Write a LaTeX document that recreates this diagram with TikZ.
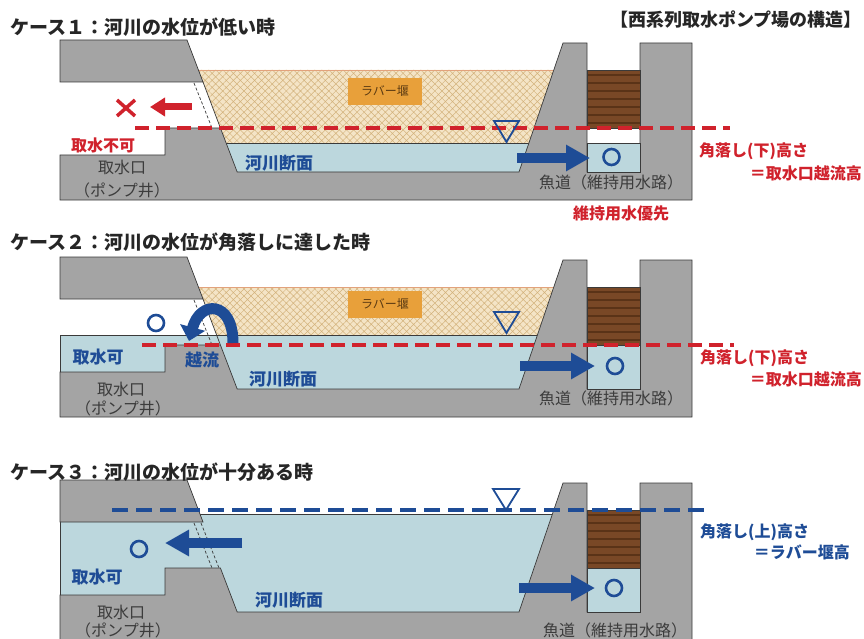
\documentclass[tikz,border=0pt]{standalone}
\usepackage{fontspec}
\setmainfont{Noto Sans CJK JP}
\usetikzlibrary{arrows.meta,patterns.meta}

\definecolor{concrete}{HTML}{A4A4A4}
\definecolor{edge}{HTML}{3A3A3A}
\definecolor{river}{HTML}{BCD7DD}
\definecolor{weirsand}{HTML}{F4E4C6}
\definecolor{weirline}{HTML}{D3B27C}
\definecolor{weirrim}{HTML}{E2A27C}
\definecolor{levelred}{HTML}{D0222C}
\definecolor{flowblue}{HTML}{1E4C96}
\definecolor{wood}{HTML}{794826}
\definecolor{woodgrain}{HTML}{5A3317}
\definecolor{tagorange}{HTML}{E8A03A}
\definecolor{tagink}{HTML}{5B3A12}
\definecolor{ink}{HTML}{3C3C3C}

\newcommand{\sz}[1]{\fontsize{#1}{#1}\selectfont}

\tikzset{
  wall/.style={fill=concrete, draw=edge, line width=0.7pt, line join=miter},
  water/.style={fill=river, draw=edge, line width=0.6pt},
  weir/.style={fill=weirsand, postaction={pattern={Hatch[angle=45,distance=5pt,line width=0.5pt]}, pattern color=weirline}},
  weirtop/.style={draw=weirrim, line width=0.8pt},
  gate/.style={draw=edge, line width=0.7pt, dash pattern=on 3pt off 2pt},
  redlevel/.style={draw=levelred, line width=3.5pt, dash pattern=on 14pt off 7pt},
  bluelevel/.style={draw=flowblue, line width=4pt, dash pattern=on 16pt off 8pt},
  flow/.style={draw=flowblue, line width=10pt, -{Triangle[length=24pt,width=25pt]}},
  redflow/.style={draw=levelred, line width=7pt, -{Triangle[length=15pt,width=18pt]}},
  ok/.style={circle, draw=flowblue, line width=2.6pt, minimum size=16pt, inner sep=0pt},
  gauge/.style={draw=flowblue, line width=1.8pt, line join=miter},
  title/.style={font=\bfseries\sz{19pt}, text=black!85, anchor=west, inner sep=0pt},
  redlabel/.style={font=\bfseries\sz{16pt}, text=levelred, inner sep=0pt},
  bluelabel/.style={font=\bfseries\sz{17pt}, text=flowblue, inner sep=0pt},
  graylabel/.style={font=\sz{16pt}, text=ink, inner sep=0pt},
  weirtag/.style={fill=tagorange, text=tagink, font=\sz{12pt}, minimum width=74pt, minimum height=27pt}
}

\begin{document}
\begin{tikzpicture}[x=1pt,y=-1pt]
\useasboundingbox (0,0) rectangle (864,639);

% ---- water and rubber weir first, the concrete covers their edges
% case 1
\fill[weir] (198.4,70) -- (553.8,70) -- (528.9,143) -- (226.1,143) -- cycle;
\draw[weirtop] (198.4,70) -- (553.8,70);
\draw[water] (200,143) rectangle (560,172);
% case 2
\begin{scope}[shift={(0,217)}]
  \fill[weir] (198.4,70) -- (553.8,70) -- (537.4,118) -- (216.6,118) -- cycle;
  \draw[weirtop] (198.4,70) -- (553.8,70);
  \draw[water] (60,118) rectangle (560,172);
\end{scope}
% case 3
\begin{scope}[shift={(0,440)}]
  \draw[water] (60,74) rectangle (560,172);
\end{scope}

% ---- embankment, intake pit and fishway walls
\foreach \dy in {0,217,440}{
  \begin{scope}[shift={(0,\dy)}]
    \draw[wall] (60,40) -- (187,40) -- (203,82) -- (60,82) -- cycle;
    \draw[wall] (60,155) -- (165,155) -- (165,128) -- (220.4,128) -- (237.2,172)
      -- (519,172) -- (563,43) -- (587,43) -- (587,172) -- (640,172)
      -- (640,43) -- (692,43) -- (692,200) -- (60,200) -- cycle;
    % stop logs
    \fill[wood] (587,70) rectangle (640,128);
    \foreach \k in {0,...,6}
      \draw[woodgrain, line width=1.2pt] (587,75+8*\k) -- (640,75+8*\k);
    \draw[edge, line width=0.7pt] (587,70) rectangle (640,128);
  \end{scope}
}

% ---- case 1
\draw[water] (587,143) rectangle (640,172);
\draw[gate] (194,83) -- (212,128);
\draw[edge, line width=0.7pt] (203,82) -- (220.4,128);
\draw[redlevel] (135,128) -- (730,128);
\draw[gauge] (494,121) -- (519,121) -- (506.5,142) -- cycle;
\draw[levelred, line width=3.5pt] (117,100) -- (135,116) (117,116) -- (135,100);
\draw[redflow] (192,107) -- (150,107);
\draw[flow] (517,158) -- (590,158);
\node[ok] (ok1) at (611.5,157) {};

\node[title] (case1) at (10,27) {ケース１：河川の水位が低い時};
\node[title, anchor=east, font=\bfseries\sz{18pt}] (heading) at (862,20) {【西系列取水ポンプ場の構造】};
\node[weirtag] (weir1) at (385,91.5) {ラバー堰};
\node[redlabel] (fail1) at (103,145) {取水不可};
\node[graylabel] (pit1) at (122,167) {取水口};
\node[graylabel] (pitsub1) at (122,190) {（ポンプ井）};
\node[bluelabel] (river1) at (279,163) {河川断面};
\node[graylabel] (fish1) at (611,182) {魚道（維持用水路）};
\node[redlabel] (keep1) at (621,213) {維持用水優先};
\node[redlabel, anchor=west] (log1) at (699,151) {角落し(下)高さ};
\node[redlabel, anchor=east] (crest1) at (862,173) {＝取水口越流高};

% ---- case 2
\begin{scope}[shift={(0,217)}]
  \draw[water] (587,128) rectangle (640,172);
  \draw[gate] (194,83) -- (212,128);
  \draw[edge, line width=0.7pt] (203,82) -- (220.4,128);
  \draw[redlevel] (142,128) -- (734,128);
  \draw[gauge] (494,95) -- (519,95) -- (506.5,116) -- cycle;
  \draw[flow] (520,149) -- (595,149);
\end{scope}
\draw[flowblue, line width=11pt, -{Triangle[length=14pt,width=25pt]}]
  (233,343) .. controls (233,300) and (200,300) .. (189,341);
\node[ok] (ok2a) at (156,323) {};
\node[ok] (ok2b) at (615,366) {};

\node[title] (case2) at (10,242) {ケース２：河川の水位が角落しに達した時};
\node[weirtag] (weir2) at (385,304) {ラバー堰};
\node[bluelabel] (take2) at (98,357) {取水可};
\node[bluelabel] (spill2) at (202,360) {越流};
\node[graylabel] (pit2) at (121,389) {取水口};
\node[graylabel] (pitsub2) at (123,408) {（ポンプ井）};
\node[bluelabel] (river2) at (283,379) {河川断面};
\node[graylabel] (fish2) at (611,398) {魚道（維持用水路）};
\node[redlabel, anchor=west] (log2) at (700,358) {角落し(下)高さ};
\node[redlabel, anchor=east] (crest2) at (862,379) {＝取水口越流高};

% ---- case 3
\begin{scope}[shift={(0,440)}]
  \draw[water] (587,128) rectangle (640,172);
  \draw[gate] (194,83) -- (212,128);
  \draw[gate] (201,83) -- (219,128);
  \draw[bluelevel] (112,70) -- (709,70);
  \draw[gauge] (493,49) -- (519,49) -- (506,70) -- cycle;
  \draw[flow] (242,103) -- (165,103);
  \draw[flow] (519,148) -- (595,148);
\end{scope}
\node[ok] (ok3a) at (139,549) {};
\node[ok] (ok3b) at (614,588) {};

\node[title] (case3) at (10,472) {ケース３：河川の水位が十分ある時};
\node[bluelabel] (take3) at (97,577) {取水可};
\node[bluelabel] (river3) at (289,600) {河川断面};
\node[graylabel] (pit3) at (121,612) {取水口};
\node[graylabel] (pitsub3) at (123,630) {（ポンプ井）};
\node[graylabel] (fish3) at (615,630) {魚道（維持用水路）};
\node[bluelabel, anchor=west, font=\bfseries\sz{16pt}] (log3) at (700,532) {角落し(上)高さ};
\node[bluelabel, anchor=east, font=\bfseries\sz{16pt}] (crest3) at (850,552) {＝ラバー堰高};
\end{tikzpicture}
\end{document}
